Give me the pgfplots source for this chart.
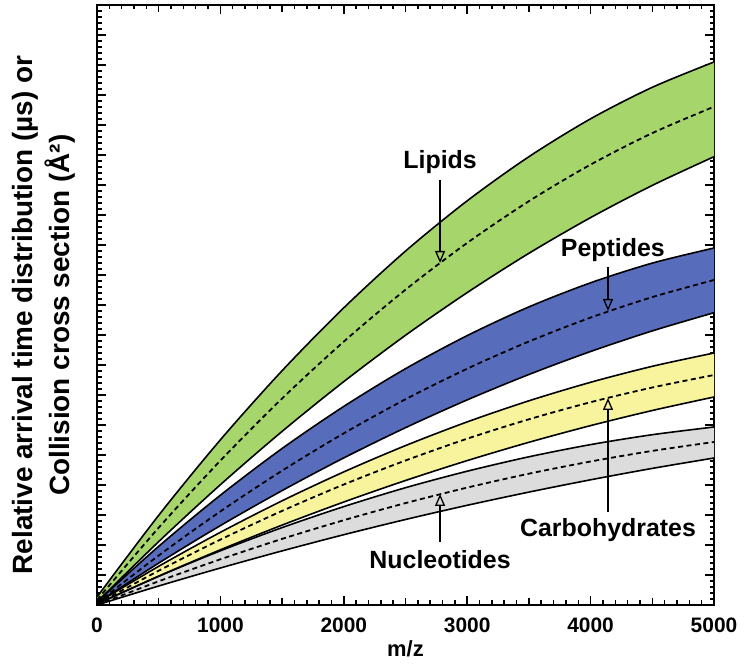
\documentclass[border=0pt]{standalone}
\usepackage{pgfplots}
\pgfplotsset{compat=1.18}
\usepackage{pgfplotstable}
\usepgfplotslibrary{fillbetween}
\usetikzlibrary{arrows.meta}
\usepackage{fontspec}
\setmainfont{Liberation Sans}
\definecolor{lipid}{RGB}{166,214,107}
\definecolor{pept}{RGB}{88,108,188}
\definecolor{carb}{RGB}{248,244,158}
\definecolor{nucl}{RGB}{220,220,220}

\pgfplotstableread{
x lu ld ll pu pd pl cu cd cl nu nd nl
0 8 5 3 3 2 2 2 1 1 1 0 0
500 89.7 77.3 63.4 58.7 49.5 41.9 38.7 34.3 28.9 28.7 23.7 19
1000 165.2 144.4 120.3 109.8 93.6 79.4 72.7 65.4 55.2 54.2 45.7 37
1500 234.3 206.5 173.6 156.5 134.3 114.4 104.2 94.1 79.9 77.4 66.1 54.1
2000 297.2 263.4 223.4 198.6 171.7 147.1 133.1 120.5 103 98.4 84.8 70.3
2500 353.9 315.3 269.7 236.3 205.7 177.3 159.4 144.5 124.5 117.3 101.9 85.5
3000 404.2 362.1 312.4 269.4 236.3 205.1 183.1 166.3 144.4 133.8 117.4 99.7
3500 448.3 403.8 351.7 298.1 263.5 230.5 204.2 185.7 162.7 148.2 131.3 112.9
4000 486.2 440.4 387.4 322.2 287.4 253.5 222.7 202.8 179.4 160.4 143.5 125.2
4500 517.7 471.9 419.6 341.9 307.9 274.1 238.7 217.5 194.5 170.3 154.1 136.6
5000 543 498.3 448.3 357 325 292.3 252 230 208 178 163 147
}\datatable

\begin{document}
\begin{tikzpicture}
\begin{axis}[
  scale only axis, width=617bp, height=600bp,
  xmin=0, xmax=5000, ymin=0, ymax=600,
  xtick={0,1000,...,5000}, minor x tick num=9,
  extra x ticks={500,1500,2500,3500,4500},
  extra x tick style={xticklabel=\empty, major tick length=7bp},
  ytick={0,30,...,600}, minor y tick num=4, yticklabel=\empty,
  scaled x ticks=false,
  /pgf/number format/1000 sep={},
  /pgf/number format/assume math mode=true,
  x tick label style={font=\bfseries\fontsize{21}{21}\selectfont, yshift=-9bp},
  major tick length=9bp, minor tick length=4.5bp,
  every tick/.style={black, line width=1.5bp},
  axis line style={line width=2bp},
  xlabel={m/z},
  xlabel style={font=\bfseries\fontsize{22}{22}\selectfont, yshift=-1bp},
  ylabel={Relative arrival time distribution (µs) or\\Collision cross section (Å²)},
  ylabel style={font=\bfseries\fontsize{28}{37}\selectfont, align=center,
    at={(axis description cs:-0.029,0.483)}, anchor=south, rotate=0},
  clip=false,
]
% invisible boundaries for fills
\addplot[draw=none, smooth, name path=LU] table[y=lu]{\datatable};
\addplot[draw=none, smooth, name path=LL] table[y=ll]{\datatable};
\addplot[draw=none, smooth, name path=PU] table[y=pu]{\datatable};
\addplot[draw=none, smooth, name path=PL] table[y=pl]{\datatable};
\addplot[draw=none, smooth, name path=CU] table[y=cu]{\datatable};
\addplot[draw=none, smooth, name path=CL] table[y=cl]{\datatable};
\addplot[draw=none, smooth, name path=NU] table[y=nu]{\datatable};
\addplot[draw=none, smooth, name path=NL] table[y=nl]{\datatable};
\addplot[lipid] fill between[of=LU and LL];
\addplot[pept] fill between[of=PU and PL];
\addplot[carb] fill between[of=CU and CL];
\addplot[nucl] fill between[of=NU and NL];
% boundaries
\pgfplotsinvokeforeach{lu,ll,pu,pl,cu,cl,nu,nl}{
  \addplot[black, line width=1.6bp, smooth] table[y=#1]{\datatable};
}
\pgfplotsinvokeforeach{ld,pd,cd,nd}{
  \addplot[black, line width=1.8bp, smooth, dash pattern=on 5bp off 3.5bp] table[y=#1]{\datatable};
}
% annotations
\tikzset{lab/.style={font=\bfseries\fontsize{25}{25}\selectfont},
  arr/.style={line width=1.5bp, -{Triangle[open, length=12bp, width=10bp, line width=1.3bp]}}}
\node[lab] at (axis cs:2780,443) {Lipids};
\draw[arr] (axis cs:2780,425) -- (axis cs:2780,342);
\node[lab] at (axis cs:4180,355) {Peptides};
\draw[arr] (axis cs:4141,338) -- (axis cs:4141,294);
\node[lab] at (axis cs:4141,75) {Carbohydrates};
\draw[arr] (axis cs:4141,93) -- (axis cs:4141,207);
\node[lab] at (axis cs:2780,45) {Nucleotides};
\draw[arr] (axis cs:2780,63) -- (axis cs:2780,111);
\end{axis}
\pgfresetboundingbox
\path ([xshift=-97bp,yshift=-59bp]current axis.south west) rectangle ([xshift=36bp,yshift=5bp]current axis.north east);
\end{tikzpicture}
\end{document}
